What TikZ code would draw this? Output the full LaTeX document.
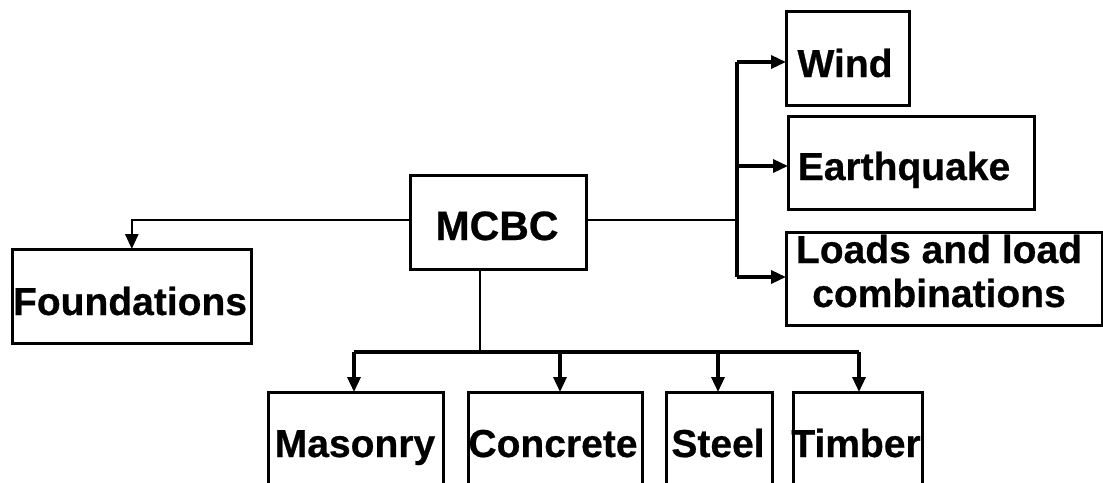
\documentclass[tikz,border=0pt]{standalone}
\usepackage{fontspec}
\setmainfont{Liberation Sans}[BoldFeatures={FakeBold=0.6}]
\usetikzlibrary{arrows.meta}
\tikzset{
  box/.style={draw=black, line width=2.6pt, inner sep=0pt, anchor=north west, fill=white},
  lbl/.style={inner sep=0pt, anchor=base, font=\bfseries\fontsize{39}{44}\selectfont},
  conn/.style={line width=2.6pt},
  thick conn/.style={line width=3.4pt},
  tip/.style={-{Triangle[length=15pt,width=13pt]}, shorten >=-1pt},
  arr/.style={line width=3.4pt, tip}
}
\begin{document}
\begin{tikzpicture}[x=1pt,y=-1pt]
\useasboundingbox (0,0) rectangle (1103,482);
\clip (0,0) rectangle (1103,482);
% boxes
\node[box, minimum width=176pt, minimum height=94pt] (mcbc) at (409,174) {};
\node[box, minimum width=239pt, minimum height=94pt] (fnd) at (11,248) {};
\node[box, minimum width=123pt, minimum height=94pt] (wind) at (785,10) {};
\node[box, minimum width=246pt, minimum height=93pt] (eq) at (787,115) {};
\node[box, minimum width=316pt, minimum height=93pt] (loads) at (785,231) {};
\node[box, minimum width=175pt, minimum height=110pt] (mas) at (267,391) {};
\node[box, minimum width=174pt, minimum height=110pt] (con) at (467,391) {};
\node[box, minimum width=106pt, minimum height=110pt] (stl) at (665,391) {};
\node[box, minimum width=129pt, minimum height=110pt] (tim) at (792,391) {};
% labels
\node[lbl, font=\bfseries\fontsize{41}{44}\selectfont] (tmcbc) at (497,240) {MCBC};
\node[lbl] (tfnd) at (130,315) {Foundations};
\node[lbl] (twind) at (845,77) {Wind};
\node[lbl] (teq) at (904,180) {Earthquake};
\node[lbl] (tloads1) at (939,263) {Loads and load};
\node[lbl] (tloads2) at (939,307) {combinations};
\node[lbl] (tmas) at (355,457) {Masonry};
\node[lbl] (tcon) at (553,457) {Concrete};
\node[lbl] (tstl) at (718,457) {Steel};
\node[lbl] (ttim) at (856,457) {Timber};
% connectors
\coordinate (jr) at (737,220);
\coordinate (jt) at (737,62);
\coordinate (jm) at (737,166);
\coordinate (jl) at (737,277);
\coordinate (jb) at (480,352);
\coordinate (b1) at (354,352);
\coordinate (b2) at (560,352);
\coordinate (b3) at (718,352);
\coordinate (b4) at (859,352);
\draw[conn, tip] (mcbc.west |- jr) -| (fnd.north);
\draw[conn] (mcbc.east |- jr) -- (jr);
\draw[thick conn] (jt) -- (jl);
\draw[arr] (jt) -- (wind.west |- jt);
\draw[arr] (jm) -- (eq.west |- jm);
\draw[arr] (jl) -- (loads.west |- jl);
\draw[conn] (mcbc.south -| jb) -- (jb);
\draw[thick conn] (b1) -- (b4);
\draw[arr] (b1) -- (b1 |- mas.north);
\draw[arr] (b2) -- (b2 |- con.north);
\draw[arr] (b3) -- (b3 |- stl.north);
\draw[arr] (b4) -- (b4 |- tim.north);
\end{tikzpicture}
\end{document}
